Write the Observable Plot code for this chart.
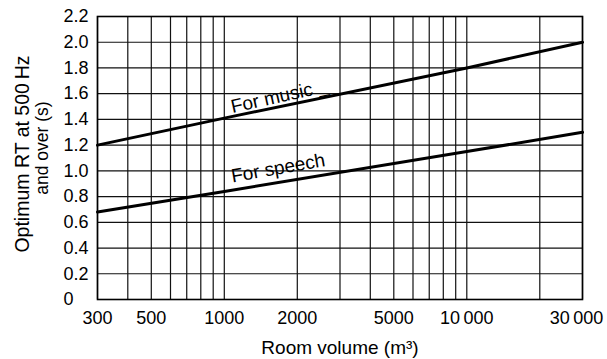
<!DOCTYPE html>
<html>
<head>
<meta charset="utf-8">
<script src="https://cdn.jsdelivr.net/npm/d3@7"></script>
<script src="https://cdn.jsdelivr.net/npm/@observablehq/plot@0.6"></script>
<style>
  html, body { margin: 0; padding: 0; background: white; }
</style>
</head>
<body>
<div id="chart"></div>
<script>
// Room volume (m³) sample points
const volumes = [300, 1000, 10000, 30000];
// Optimum RT (s)
const musicRT = [1.2, 1.41, 1.8, 2.0];
const speechRT = [0.68, 0.84, 1.15, 1.3];

// Grid and ticks
const xGrid = [300, 400, 500, 600, 700, 800, 900, 1000, 2000, 3000, 4000, 5000, 6000, 7000, 8000, 9000, 10000, 20000, 30000];
const xTickValues = [300, 500, 1000, 2000, 5000, 10000];
const xLastTick = [30000];
const yTicks = [0, 0.2, 0.4, 0.6, 0.8, 1.0, 1.2, 1.4, 1.6, 1.8, 2.0, 2.2];

// Annotations
const labelText = ["For music _", "For speech"];
const labelX = [1080, 1080];
const labelY = [1.45, 0.91];
const yTitle1 = "Optimum RT at 500\u2009Hz";
const yTitle2 = "and over (s)";
const xTitle = "Room volume (m\u00b3)";

const music = volumes.map((v, i) => ({volume: v, rt: musicRT[i]}));
const speech = volumes.map((v, i) => ({volume: v, rt: speechRT[i]}));

const fmtX = d => d >= 10000 ? d3.format(",")(d).replace(",", "\u2009") : String(d);
const fmtY = d => d === 0 ? "0" : d.toFixed(1);

const chart = Plot.plot({
  width: 607,
  height: 359,
  marginLeft: 97,
  marginRight: 25,
  marginTop: 16,
  marginBottom: 60,
  style: {fontFamily: "'Liberation Sans', Arial, sans-serif", fontSize: "18px", background: "white", color: "black"},
  x: {type: "log", domain: [300, 30000], axis: null},
  y: {domain: [0, 2.2], axis: null},
  marks: [
    Plot.ruleX(xGrid, {stroke: "#111", strokeWidth: 1.2}),
    Plot.ruleY(yTicks, {stroke: "#111", strokeWidth: 1.2}),
    Plot.frame({stroke: "black", strokeWidth: 1.6}),
    Plot.axisY(yTicks, {tickSize: 0, tickPadding: 34, textAnchor: "start", tickFormat: fmtY, label: null, fontSize: 18}),
    Plot.text(xTickValues, {x: d => d, text: fmtX, frameAnchor: "bottom", textAnchor: "middle", lineAnchor: "top", dy: 12, fontSize: 18, fill: "black"}),
    Plot.text(xLastTick, {x: d => d, text: fmtX, frameAnchor: "bottom", textAnchor: "middle", lineAnchor: "top", dy: 12, dx: -6, fontSize: 18, fill: "black"}),
    Plot.line(music, {x: "volume", y: "rt", stroke: "black", strokeWidth: 3}),
    Plot.line(speech, {x: "volume", y: "rt", stroke: "black", strokeWidth: 3}),
    Plot.text([0], {x: () => labelX[0], y: () => labelY[0], text: () => labelText[0], rotate: -12.5, textAnchor: "start", lineAnchor: "bottom", fontSize: 19, fill: "black"}),
    Plot.text([1], {x: () => labelX[1], y: () => labelY[1], text: () => labelText[1], rotate: -10, textAnchor: "start", lineAnchor: "bottom", fontSize: 19, fill: "black"}),
    Plot.text([yTitle1], {text: d => d, frameAnchor: "left", textAnchor: "middle", lineAnchor: "bottom", rotate: -90, dx: -69, dy: -4, fontSize: 19.5, fill: "black"}),
    Plot.text([yTitle2], {text: d => d, frameAnchor: "left", textAnchor: "middle", lineAnchor: "bottom", rotate: -90, dx: -50, dy: -10, fontSize: 17.5, fill: "black"}),
    Plot.text([xTitle], {text: d => d, frameAnchor: "bottom", textAnchor: "middle", dy: 48, fontSize: 19, lineAnchor: "middle", fill: "black"})
  ]
});

document.getElementById("chart").appendChild(chart);
</script>
</body>
</html>
